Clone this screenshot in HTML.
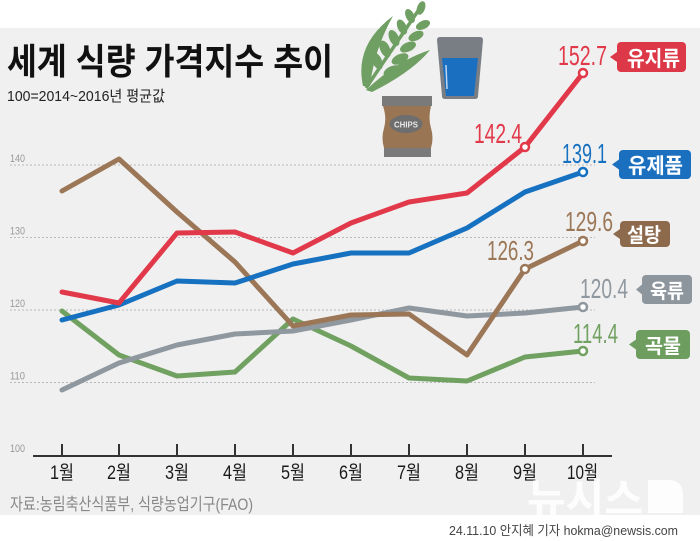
<!DOCTYPE html>
<html>
<head>
<meta charset="utf-8">
<style>
html,body{margin:0;padding:0;background:#fff;}
svg{display:block;}
text{font-family:"Liberation Sans","Noto Sans CJK KR",sans-serif;}
</style>
</head>
<body>
<svg width="700" height="541" viewBox="0 0 700 541" xmlns="http://www.w3.org/2000/svg">
  <rect x="0" y="0" width="700" height="541" fill="#ffffff"/>
  <rect x="0" y="28" width="700" height="487" fill="#f0f0f0"/>

  <!-- Title -->
  <text x="7" y="74" font-size="36" font-weight="bold" fill="#111" textLength="326" lengthAdjust="spacingAndGlyphs">세계 식량 가격지수 추이</text>
  <text x="7" y="101" font-size="15" fill="#222" textLength="158" lengthAdjust="spacingAndGlyphs">100=2014~2016년 평균값</text>

  <!-- Wheat icon -->
  <g fill="#6f9f62">
    <path d="M363,86 Q354,45 393,16 Q374,50 370,86 Z"/>
    <path d="M366,90 Q398,60 430,50 Q412,72 372,92 Z"/>
    <path d="M366,88 L420,8" stroke="#6f9f62" stroke-width="3.5" fill="none"/>
    <ellipse cx="377" cy="61" rx="9" ry="4.8" transform="rotate(-115 377 61)"/>
    <ellipse cx="392" cy="71" rx="9" ry="4.8" transform="rotate(-25 392 71)"/>
    <ellipse cx="385" cy="49" rx="9" ry="4.8" transform="rotate(-115 385 49)"/>
    <ellipse cx="400" cy="59" rx="9" ry="4.8" transform="rotate(-25 400 59)"/>
    <ellipse cx="394" cy="38" rx="8.5" ry="4.6" transform="rotate(-115 394 38)"/>
    <ellipse cx="408" cy="47" rx="8.5" ry="4.6" transform="rotate(-25 408 47)"/>
    <ellipse cx="402" cy="27" rx="8" ry="4.4" transform="rotate(-115 402 27)"/>
    <ellipse cx="416" cy="36" rx="8" ry="4.4" transform="rotate(-25 416 36)"/>
    <ellipse cx="410" cy="16" rx="7.5" ry="4.2" transform="rotate(-115 410 16)"/>
    <ellipse cx="423" cy="25" rx="7.5" ry="4.2" transform="rotate(-25 423 25)"/>
    <ellipse cx="421" cy="8" rx="7" ry="4" transform="rotate(-70 421 8)"/>
  </g>

  <!-- Glass icon -->
  <path d="M437,40 Q437,37 440,37 L480,37 Q483,37 483,40 L478,96 Q478,99 475,99 L445,99 Q442,99 442,96 Z" fill="#787e84"/>
  <path d="M442,58 L478,58 L474,96 L446,96 Z" fill="#1a6fc0"/>
  <line x1="446" y1="65" x2="447" y2="89" stroke="#bcd6f0" stroke-width="1.5"/>

  <!-- Chips icon -->
  <rect x="382" y="96" width="50" height="10" fill="#7a7a7a"/>
  <path d="M383,106 L431,106 Q428,118 431,128 Q434,138 431,148 L384,148 Q381,138 384,128 Q387,118 383,106 Z" fill="#9a7553"/>
  <rect x="384" y="148" width="47" height="9" fill="#7a7a7a"/>
  <ellipse cx="406" cy="124" rx="16.5" ry="9" fill="#6e6e6e"/>
  <text x="394" y="127.5" font-size="8" font-weight="bold" fill="#e8e8e8" textLength="24" lengthAdjust="spacingAndGlyphs">CHIPS</text>

  <!-- Grid -->
  <g stroke="#b8b8b8" stroke-width="1" stroke-dasharray="2 2">
    <line x1="10" y1="165" x2="595" y2="165"/>
    <line x1="10" y1="237.5" x2="595" y2="237.5"/>
    <line x1="10" y1="310" x2="595" y2="310"/>
    <line x1="10" y1="382.5" x2="595" y2="382.5"/>
  </g>
  <g font-size="11" fill="#999">
    <text x="10" y="162" textLength="15" lengthAdjust="spacingAndGlyphs">140</text>
    <text x="10" y="234.5" textLength="15" lengthAdjust="spacingAndGlyphs">130</text>
    <text x="10" y="307" textLength="15" lengthAdjust="spacingAndGlyphs">120</text>
    <text x="10" y="379.5" textLength="15" lengthAdjust="spacingAndGlyphs">110</text>
    <text x="10" y="452" textLength="15" lengthAdjust="spacingAndGlyphs">100</text>
  </g>

  <!-- Axis -->
  <line x1="33" y1="456" x2="612" y2="456" stroke="#333" stroke-width="2"/>
  <g stroke="#333" stroke-width="2">
    <line x1="62" y1="444" x2="62" y2="456"/>
    <line x1="119" y1="444" x2="119" y2="456"/>
    <line x1="177" y1="444" x2="177" y2="456"/>
    <line x1="235" y1="444" x2="235" y2="456"/>
    <line x1="293" y1="444" x2="293" y2="456"/>
    <line x1="351" y1="444" x2="351" y2="456"/>
    <line x1="409" y1="444" x2="409" y2="456"/>
    <line x1="467" y1="444" x2="467" y2="456"/>
    <line x1="525" y1="444" x2="525" y2="456"/>
    <line x1="583" y1="444" x2="583" y2="456"/>
  </g>
  <g font-size="19" fill="#1a1a1a">
    <text x="50" y="479" textLength="24" lengthAdjust="spacingAndGlyphs">1월</text>
    <text x="107" y="479" textLength="24" lengthAdjust="spacingAndGlyphs">2월</text>
    <text x="165" y="479" textLength="24" lengthAdjust="spacingAndGlyphs">3월</text>
    <text x="223" y="479" textLength="24" lengthAdjust="spacingAndGlyphs">4월</text>
    <text x="281" y="479" textLength="24" lengthAdjust="spacingAndGlyphs">5월</text>
    <text x="339" y="479" textLength="24" lengthAdjust="spacingAndGlyphs">6월</text>
    <text x="397" y="479" textLength="24" lengthAdjust="spacingAndGlyphs">7월</text>
    <text x="455" y="479" textLength="24" lengthAdjust="spacingAndGlyphs">8월</text>
    <text x="513" y="479" textLength="24" lengthAdjust="spacingAndGlyphs">9월</text>
    <text x="567" y="479" textLength="31" lengthAdjust="spacingAndGlyphs">10월</text>
  </g>

  <!-- Watermark -->
  <g fill="#ffffff" opacity="0.9">
    <text x="527" y="514" font-size="42" font-weight="bold" textLength="116" lengthAdjust="spacingAndGlyphs">뉴시스</text>
    <path d="M648,480 L668,480 Q683,480 683,495 L683,513 L648,513 Z"/>
  </g>

  <!-- Series -->
  <g fill="none" stroke-width="5" stroke-linejoin="round" stroke-linecap="round">
    <polyline stroke="#71a160" points="62,311 119,355 177,376 235,372 293,319 351,346 409,378 467,381 525,357 583,351"/>
    <polyline stroke="#8f979f" points="62,390 119,363 177,345 235,334 293,331 351,320 409,308 467,316 525,313 583,307"/>
    <polyline stroke="#9b7757" points="62,191 119,159 177,212 235,262 293,326 351,315 409,314 467,355 525,269 583,241"/>
    <polyline stroke="#1771c1" points="62,320 119,305 177,281 235,283 293,264 351,253 409,253 467,228 525,192 583,172"/>
    <polyline stroke="#e2394a" points="62,292 119,303 177,233 235,232 293,253 351,223 409,202 467,193 525,147 583,73"/>
  </g>
  <g fill="#ffffff" stroke-width="2.5">
    <circle cx="583" cy="351" r="4" stroke="#71a160"/>
    <circle cx="583" cy="307" r="4" stroke="#8f979f"/>
    <circle cx="525" cy="269" r="4" stroke="#9b7757"/>
    <circle cx="583" cy="241" r="4" stroke="#9b7757"/>
    <circle cx="583" cy="172" r="4" stroke="#1771c1"/>
    <circle cx="525" cy="147" r="4" stroke="#e2394a"/>
    <circle cx="583" cy="73" r="4" stroke="#e2394a"/>
  </g>

  <!-- Value labels -->
  <g font-size="28">
    <text x="558" y="65" fill="#e2394a" textLength="49" lengthAdjust="spacingAndGlyphs">152.7</text>
    <text x="474" y="143" fill="#e2394a" textLength="48" lengthAdjust="spacingAndGlyphs">142.4</text>
    <text x="562" y="163" fill="#1771c1" textLength="45" lengthAdjust="spacingAndGlyphs">139.1</text>
    <text x="565" y="231" fill="#9b7757" textLength="48" lengthAdjust="spacingAndGlyphs">129.6</text>
    <text x="487" y="260" fill="#9b7757" textLength="47" lengthAdjust="spacingAndGlyphs">126.3</text>
    <text x="580" y="298" fill="#8f979f" textLength="48" lengthAdjust="spacingAndGlyphs">120.4</text>
    <text x="573" y="343" fill="#71a160" textLength="45" lengthAdjust="spacingAndGlyphs">114.4</text>
  </g>

  <!-- Legend boxes -->
  <g>
    <rect x="617" y="42" width="69" height="30" rx="4" fill="#dd3847"/>
    <path d="M617,52 L610,57 L617,62 Z" fill="#dd3847"/>
    <text x="627" y="66" font-size="21" font-weight="bold" fill="#fff" textLength="53" lengthAdjust="spacingAndGlyphs">유지류</text>

    <rect x="619" y="150" width="72" height="29" rx="4" fill="#1a6fbf"/>
    <path d="M619,159.5 L612,164.5 L619,169.5 Z" fill="#1a6fbf"/>
    <text x="628" y="173" font-size="21" font-weight="bold" fill="#fff" textLength="55" lengthAdjust="spacingAndGlyphs">유제품</text>

    <rect x="620" y="221" width="50" height="26" rx="4" fill="#8e6a4c"/>
    <path d="M620,229 L613,234 L620,239 Z" fill="#8e6a4c"/>
    <text x="627" y="242" font-size="20" font-weight="bold" fill="#fff" textLength="34" lengthAdjust="spacingAndGlyphs">설탕</text>

    <rect x="642" y="275" width="50" height="29" rx="4" fill="#8d959d"/>
    <path d="M642,284.5 L636,289.5 L642,294.5 Z" fill="#8d959d"/>
    <text x="650" y="298" font-size="20" font-weight="bold" fill="#fff" textLength="34" lengthAdjust="spacingAndGlyphs">육류</text>

    <rect x="636" y="330" width="54" height="29" rx="4" fill="#6d9e5f"/>
    <path d="M636,339.5 L629,344.5 L636,349.5 Z" fill="#6d9e5f"/>
    <text x="645" y="353" font-size="20" font-weight="bold" fill="#fff" textLength="36" lengthAdjust="spacingAndGlyphs">곡물</text>
  </g>

  <!-- Source & credit -->
  <text x="10" y="510" font-size="17" fill="#888" textLength="243" lengthAdjust="spacingAndGlyphs">자료:농림축산식품부, 식량농업기구(FAO)</text>
  <text x="449" y="535" font-size="13" fill="#444" textLength="229" lengthAdjust="spacingAndGlyphs">24.11.10 안지혜 기자 hokma@newsis.com</text>
</svg>
</body>
</html>
